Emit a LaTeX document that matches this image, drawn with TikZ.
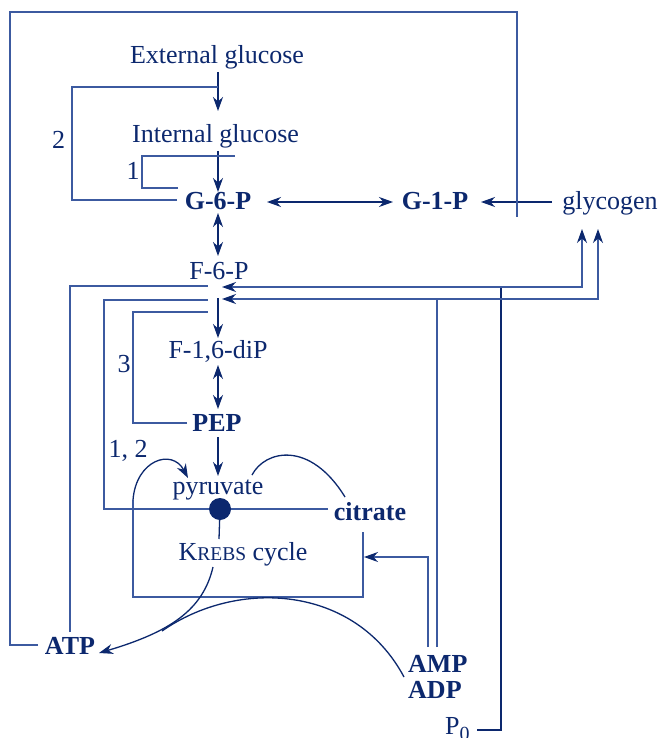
\documentclass[tikz,border=0pt]{standalone}
\usepackage{fontspec}
\setmainfont{Liberation Serif}
\usetikzlibrary{arrows.meta}
\definecolor{navy}{RGB}{12,40,110}
\definecolor{regc}{RGB}{60,90,160}
\begin{document}
\begin{tikzpicture}[x=1pt,y=-1pt,
 lbl/.style={inner sep=0pt, anchor=base, text=navy, font=\fontsize{26}{30}\selectfont},
 blbl/.style={lbl, font=\fontsize{26}{30}\selectfont\bfseries},
 tip/.tip={Stealth[length=14pt,width=10pt,inset=4.5pt,color=navy]},
 arr/.style={draw=navy, line width=1.3pt, -tip},
 darr/.style={draw=navy, line width=1.3pt, tip-tip},
 rarr/.style={draw=regc, line width=1.4pt, -tip},
 reg/.style={draw=regc, line width=1.4pt},
 curve/.style={draw=navy, line width=1.3pt}]
\useasboundingbox (0,0) rectangle (660,738);
\fill[white] (0,0) rectangle (660,738);

% texts
\node[lbl] (ext) at (217,64) {External glucose};
\node[lbl] (int) at (215.5,143) {Internal glucose};
\node[blbl] (g6p) at (218,209) {G-6-P};
\node[blbl] (g1p) at (435,209) {G-1-P};
\node[lbl] (glyc) at (610,209) {glycogen};
\node[lbl] (f6p) at (219,279) {F-6-P};
\node[lbl] (f16) at (218,358) {F-1,6-diP};
\node[blbl] (pep) at (217,431) {PEP};
\node[lbl] (pyr) at (218,494) {pyruvate};
\node[blbl] (cit) at (370,520) {citrate};
\node[lbl] (krebs) at (243,560) {K{\fontsize{19.5}{22}\selectfont REBS} cycle};
\node[blbl] (atp) at (70,654) {ATP};
\node[blbl, anchor=base west] (amp) at (408,672) {AMP};
\node[blbl, anchor=base west] (adp) at (408,698) {ADP};
\node[lbl, anchor=base west] (p0) at (445,734) {P\raisebox{-6pt}{\fontsize{20}{22}\selectfont 0}};
\node[lbl] (l2) at (58.5,149) {2};
\node[lbl] (l1) at (133,179) {1};
\node[lbl] (l3) at (124,372) {3};
\node[lbl] (l12) at (128,457) {1, 2};

% coordinates
\coordinate (e1) at (218,72);   \coordinate (e2) at (218,111);
\coordinate (i1) at (218,151);  \coordinate (i2) at (218,192);
\coordinate (q2a) at (177,200); \coordinate (q2c) at (72,87);  \coordinate (q2d) at (218,87);
\coordinate (q1a) at (178,188); \coordinate (q1c) at (142,156); \coordinate (q1d) at (235,156);
\coordinate (oa) at (38,645);   \coordinate (ob) at (10,12);   \coordinate (oc) at (517,217);
\coordinate (g6r) at (267,202); \coordinate (g1l) at (393,202);
\coordinate (gy1) at (552,202); \coordinate (gy2) at (481,202);
\coordinate (g6d) at (218,213); \coordinate (f6u) at (218,256);
\coordinate (f6d) at (218,298); \coordinate (f16u) at (218,338);
\coordinate (f16d) at (218,365); \coordinate (pepu) at (218,409);
\coordinate (pepd) at (218,437); \coordinate (pyru) at (218,476);
\coordinate (atpu) at (70,632); \coordinate (f6a) at (208,286);
\coordinate (citl) at (328,509); \coordinate (cb) at (104,300); \coordinate (f6b) at (208,300);
\coordinate (pepl) at (187,423); \coordinate (pc) at (133,312); \coordinate (f6c) at (208,312);
\coordinate (p0r) at (477,730); \coordinate (pj) at (501,287);
\coordinate (f6r1) at (222,287); \coordinate (gl1) at (582,229);
\coordinate (ampt) at (437,647); \coordinate (aj) at (437,299);
\coordinate (f6r2) at (222,299); \coordinate (gl2) at (598,229);
\coordinate (amp2) at (428,647); \coordinate (kr) at (364,557);
\coordinate (cbt) at (363,532); \coordinate (kb) at (133,597); \coordinate (kl) at (133,500);
\coordinate (pyl) at (188,478);
\coordinate (pyr2) at (252,475); \coordinate (cit2) at (345,497);
\coordinate (ks) at (219,539);
\coordinate (kc) at (213,567); \coordinate (atpr) at (99,653);
\coordinate (ampl) at (404,677); \coordinate (mrg) at (162,631);

% main arrows
\draw[arr] (e1) -- (e2);
\draw[arr] (i1) -- (i2);
\draw[darr] (g6r) -- (g1l);
\draw[arr] (gy1) -- (gy2);
\draw[darr] (g6d) -- (f6u);
\draw[arr] (f6d) -- (f16u);
\draw[darr] (f16d) -- (pepu);
\draw[arr] (pepd) -- (pyru);

% regulation loops
\draw[reg] (q2a) -| (q2c) -- (q2d);
\draw[reg] (q1a) -| (q1c) -- (q1d);
\draw[reg] (oa) -| (ob) -| (oc);
\draw[reg] (atpu) |- (f6a);
\draw[reg] (citl) -| (cb) -- (f6b);
\draw[reg] (pepl) -| (pc) -- (f6c);
\draw[curve] (p0r) -| (pj);
\draw[rarr] (pj) -- (f6r1);
\draw[rarr] (pj) -| (gl1);
\draw[reg] (ampt) -- (aj);
\draw[rarr] (aj) -- (f6r2);
\draw[rarr] (aj) -| (gl2);
\draw[rarr] (amp2) |- (kr);

% Krebs box and curves
\draw[reg] (cbt) |- (kb) -- (kl);
\draw[arr] (kl) .. controls (136,460) and (172,448) .. (pyl);
\draw[curve] (pyr2) .. controls (265,450) and (310,440) .. (cit2);
\node[circle, fill=navy, minimum size=22pt, inner sep=0pt] (dot) at (220,509) {};
\draw[curve] (dot) -- (ks);
\draw[arr] (kc) .. controls (203,610) and (170,632) .. (atpr);
\draw[curve] (ampl) .. controls (355,585) and (238,578) .. (mrg);
\end{tikzpicture}
\end{document}
